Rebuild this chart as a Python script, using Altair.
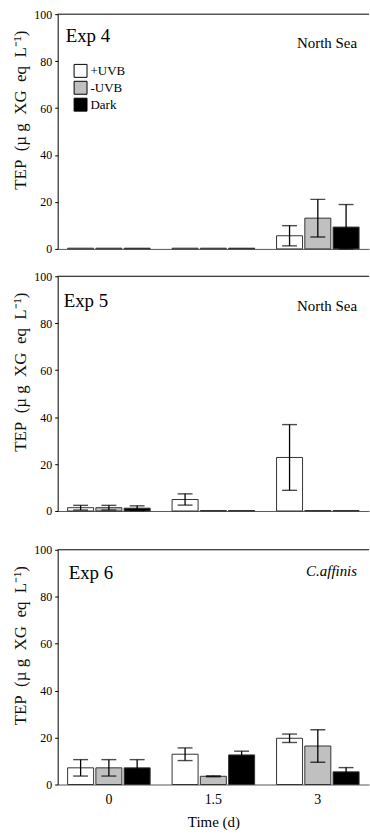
import altair as alt
import pandas as pd

FONT = "Liberation Serif, Times New Roman, serif"

times = ["0", "1.5", "3"]
treatments = ["+UVB", "-UVB", "Dark"]
fills = ["#ffffff", "#c0c0c0", "#000000"]

# Exp 4 (North Sea)
exp4_mean = [0.3, 0.3, 0.3, 0.3, 0.3, 0.3, 5.6, 13.1, 9.3]
exp4_err = [0, 0, 0, 0, 0, 0, 4.3, 8.0, 9.6]
# Exp 5 (North Sea)
exp5_mean = [1.4, 1.4, 1.2, 4.9, 0.2, 0.2, 22.8, 0.2, 0.2]
exp5_err = [1.0, 1.0, 1.0, 2.4, 0, 0, 14.0, 0, 0]
# Exp 6 (C.affinis)
exp6_mean = [7.1, 7.1, 7.1, 12.9, 3.5, 12.6, 19.7, 16.4, 5.4]
exp6_err = [3.5, 3.5, 3.5, 2.7, 0.2, 1.6, 1.8, 6.9, 1.8]

y_ticks = [0, 20, 40, 60, 80, 100]
y_title = "TEP\u2002(\u00b5 g\u2002XG\u2002eq\u2002L\u207b\u00b9)"


def make_df(means, errs):
    rows = []
    for i, t in enumerate(times):
        for j, tr in enumerate(treatments):
            k = i * 3 + j
            rows.append({"time": t, "treatment": tr, "mean": means[k], "err": errs[k]})
    return pd.DataFrame(rows)


def y_axis():
    return alt.Axis(values=y_ticks, title=y_title, grid=False, tickSize=3,
                    labelPadding=3, domainColor="black", tickColor="black",
                    labelFont=FONT, titleFont=FONT, titleFontWeight="normal",
                    titleColor="#111",
                    labelFontSize=12, titleFontSize=17, titleX=-28, titleY=96)


def panel(df, name, site, italic, show_x, show_legend, name_x, name_y, site_y):
    x_kwargs = dict(labels=show_x, ticks=False, domainColor="#555", labelAngle=0,
                    labelFont=FONT, titleFont=FONT, titleFontWeight="normal",
                    labelFontSize=14, labelPadding=8, titleFontSize=15, titlePadding=8)
    x_kwargs["title"] = "Time (d)" if show_x else None
    x_enc = alt.X("time:N", sort=times,
                  scale=alt.Scale(paddingInner=0.21, paddingOuter=0.095),
                  axis=alt.Axis(**x_kwargs))
    xo = alt.XOffset("treatment:N", sort=treatments, scale=alt.Scale(paddingInner=0.08))
    yscale = alt.Scale(domain=[0, 100], nice=False)

    if show_legend:
        leg = alt.Legend(title=None, orient="none", legendX=16, legendY=50,
                         symbolType="square", symbolSize=169, symbolStrokeColor="black",
                         symbolStrokeWidth=1, symbolOpacity=1, labelFont=FONT,
                         labelFontSize=13, rowPadding=-1,
                         padding=0, labelOffset=3)
    else:
        leg = None

    base = alt.Chart(df)
    bars = base.mark_bar(stroke="#333", strokeWidth=1).encode(
        x=x_enc, xOffset=xo,
        y=alt.Y("mean:Q", scale=yscale, axis=y_axis()),
        fill=alt.Fill("treatment:N", sort=treatments,
                      scale=alt.Scale(domain=treatments, range=fills), legend=leg),
    )
    eb = base.transform_filter("datum.err > 0").transform_calculate(
        lo="max(0, datum.mean - datum.err)", hi="datum.mean + datum.err")
    rule = eb.mark_rule(color="black", strokeWidth=1.3).encode(
        x=x_enc, xOffset=xo,
        y=alt.Y("lo:Q", scale=yscale, axis=y_axis()), y2="hi:Q")
    cap_hi = eb.mark_tick(color="black", thickness=1.4, size=15).encode(
        x=x_enc, xOffset=xo, y=alt.Y("hi:Q", scale=yscale, axis=y_axis()))
    cap_lo = eb.mark_tick(color="black", thickness=1.4, size=15).encode(
        x=x_enc, xOffset=xo, y=alt.Y("lo:Q", scale=yscale, axis=y_axis()))

    frame = alt.Chart(pd.DataFrame({"v": [100]})).mark_rule(
        color="black", strokeWidth=1).encode(y=alt.Y("v:Q", scale=yscale, axis=y_axis()))

    t_name = alt.Chart(pd.DataFrame({"label": [name]})).mark_text(
        align="left", baseline="alphabetic", font=FONT, fontSize=19, color="black"
    ).encode(text="label:N", x=alt.value(name_x), y=alt.value(name_y))
    site_kw = dict(align="right", baseline="alphabetic", font=FONT, fontSize=15, color="black")
    if italic:
        site_kw["fontStyle"] = "italic"
    t_site = alt.Chart(pd.DataFrame({"label": [site]})).mark_text(**site_kw).encode(
        text="label:N", x=alt.value(301), y=alt.value(site_y))

    return alt.layer(bars, rule, cap_hi, cap_lo, frame, t_name, t_site).properties(
        width=313, height=236)


p1 = panel(make_df(exp4_mean, exp4_err), "Exp 4", "North Sea", False, False, True, 8, 28, 34)
p2 = panel(make_df(exp5_mean, exp5_err), "Exp 5", "North Sea", False, False, False, 6, 31, 35)
p3 = panel(make_df(exp6_mean, exp6_err), "Exp 6", "C.affinis", True, True, False, 11, 29, 26)

top = alt.vconcat(p1, p2, spacing=15.5).resolve_scale(fill="independent")
chart = alt.vconcat(top, p3, spacing=26.5).resolve_scale(fill="independent").properties(
    padding={"left": 12, "top": 6, "right": 0, "bottom": 0},
    background="white",
).configure_view(strokeWidth=0).configure_axis(
    labelFont=FONT, titleFont=FONT, labelColor="black",
    titleFontWeight="normal",
).configure_legend(
    labelFont=FONT, labelColor="black",
).configure_text(font=FONT)

chart.save("out.html", embed_options={"renderer": "svg", "actions": False})
